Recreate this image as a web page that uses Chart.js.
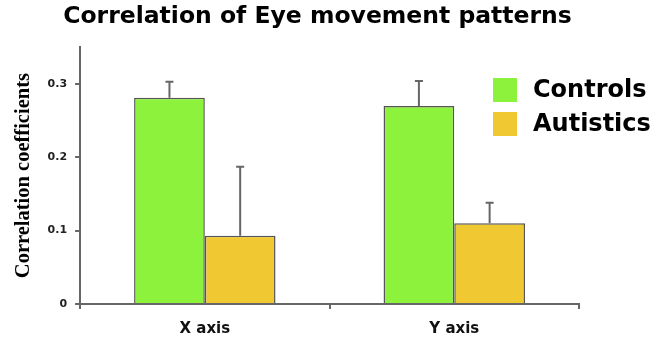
<!DOCTYPE html>
<html>
<head>
<meta charset="utf-8">
<script src="https://cdn.jsdelivr.net/npm/chart.js@4/dist/chart.umd.min.js"></script>
<style>
  html, body { margin: 0; padding: 0; background: #fff; }
  #wrap { width: 663px; height: 339px; }
</style>
</head>
<body>
<div id="wrap"><canvas id="myChart" width="663" height="339"></canvas></div>
<script>
// data
var categories = ['X axis', 'Y axis'];
var controls = [0.281, 0.270];
var controlsErr = [0.022, 0.034];
var autistics = [0.093, 0.110];
var autisticsErr = [0.094, 0.028];
var yTicks = [0, 0.1, 0.2, 0.3];

var errors = [controlsErr, autisticsErr];

// error bars: drawn from each bar top up to value + error
var errorBars = {
  id: 'errorBars',
  afterDatasetsDraw: function(chart) {
    var ctx = chart.ctx;
    var y = chart.scales.y;
    ctx.save();
    ctx.strokeStyle = '#666';
    ctx.lineWidth = 2;
    chart.data.datasets.forEach(function(ds, i) {
      var meta = chart.getDatasetMeta(i);
      meta.data.forEach(function(bar, j) {
        var top = y.getPixelForValue(ds.data[j] + errors[i][j]);
        ctx.beginPath();
        ctx.moveTo(bar.x, bar.y);
        ctx.lineTo(bar.x, top);
        ctx.moveTo(bar.x - 4, top);
        ctx.lineTo(bar.x + 4, top);
        ctx.stroke();
      });
    });
    ctx.restore();
  }
};

// legend in the upper right, over the plot
var bigLegend = {
  id: 'bigLegend',
  afterDraw: function(chart) {
    var ctx = chart.ctx;
    ctx.save();
    ctx.font = 'bold 24px "DejaVu Sans"';
    ctx.textBaseline = 'middle';
    chart.data.datasets.forEach(function(ds, i) {
      var yy = 90 + i * 34;
      ctx.fillStyle = ds.backgroundColor;
      ctx.fillRect(493, yy - 12, 24, 24);
      ctx.fillStyle = '#000';
      ctx.fillText(ds.label, 533, yy + 1);
    });
    ctx.restore();
  }
};

new Chart('myChart', {
  type: 'bar',
  data: {
    labels: categories,
    datasets: [{
      label: 'Controls',
      data: controls,
      backgroundColor: '#8cf23c',
      borderColor: '#555',
      borderWidth: 1.5,
      categoryPercentage: 0.567,
      barPercentage: 1
    }, {
      label: 'Autistics',
      data: autistics,
      backgroundColor: '#f0c832',
      borderColor: '#555',
      borderWidth: 1.5,
      categoryPercentage: 0.567,
      barPercentage: 1
    }]
  },
  options: {
    responsive: false,
    animation: false,
    layout: { padding: { left: 1, right: 29, top: 0, bottom: -10 } },
    plugins: {
      legend: { display: false },
      tooltip: { enabled: false },
      title: {
        display: true,
        text: 'Correlation of Eye movement patterns',
        color: '#000',
        font: { family: 'DejaVu Sans', size: 23.5, weight: 'bold' },
        padding: { top: 3, bottom: 16 }
      }
    },
    scales: {
      x: {
        offset: true,
        grid: { offset: true, drawOnChartArea: false, tickLength: 5, color: '#666', lineWidth: 2 },
        border: { color: '#666', width: 2 },
        ticks: {
          color: '#111',
          padding: 11,
          font: { family: 'DejaVu Sans', size: 15, weight: 'bold' }
        }
      },
      y: {
        min: 0,
        max: 0.35,
        grid: { drawOnChartArea: false, tickLength: 5, color: '#666', lineWidth: 2 },
        border: { color: '#666', width: 2 },
        afterBuildTicks: function(axis) {
          axis.ticks = yTicks.map(function(v) { return { value: v }; });
        },
        ticks: {
          color: '#222',
          padding: 8,
          font: { family: 'DejaVu Sans', size: 11, weight: 'bold' },
          callback: function(v) { return v === 0 ? '0' : v.toFixed(1); }
        },
        title: {
          display: true,
          text: 'Correlation coefficients',
          color: '#000',
          font: { family: 'Liberation Serif', size: 20.5, weight: 'bold' },
          padding: { top: 10, bottom: 4 }
        }
      },
      // empty right-hand strip where the legend sits
      yRight: {
        position: 'right',
        grid: { display: false },
        border: { display: false },
        ticks: { display: false },
        afterFit: function(scale) { scale.width = 55; }
      }
    }
  },
  plugins: [errorBars, bigLegend]
});
</script>
</body>
</html>
